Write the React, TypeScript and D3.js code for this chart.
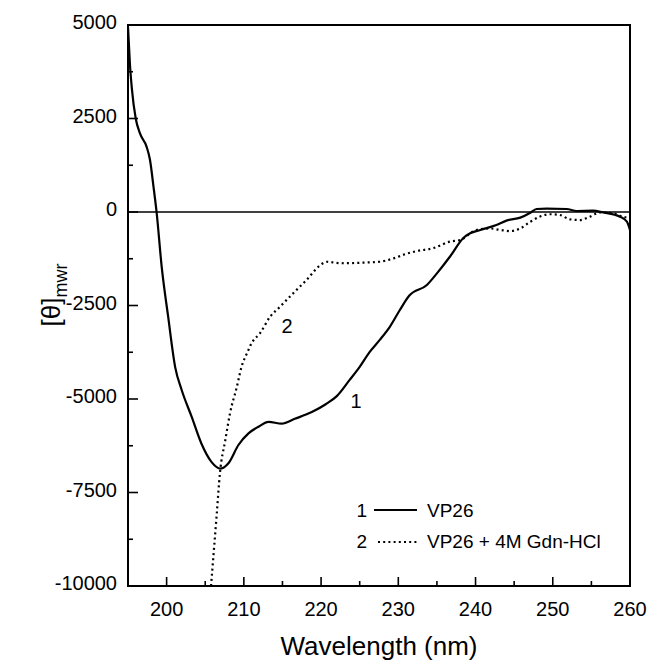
import React from "react";
import * as d3 from "d3";

const xTicks = [200, 210, 220, 230, 240, 250, 260];
const xMinor = [195, 205, 215, 225, 235, 245, 255];
const yTicks = [5000, 2500, 0, -2500, -5000, -7500, -10000];
const yMinor = [3750, 1250, -1250, -3750, -6250, -8750];

const wl1 = [195.0, 195.25, 195.5, 196.0, 196.55, 197.4, 197.85, 198.3, 198.7, 199.36, 200.2, 201.1, 201.95, 203.25, 204.5, 205.8, 207.0, 208.0, 209.3, 210.6, 211.9, 213.2, 214.9, 216.6, 218.8, 220.6, 222.0, 223.7, 225.0, 226.3, 227.6, 228.9, 230.2, 231.4, 233.7, 235.0, 236.7, 238.4, 239.3, 240.6, 242.7, 244.0, 245.8, 247.1, 247.9, 249.2, 251.8, 253.1, 255.2, 256.5, 258.7, 259.6, 260.0];
const v1 = [4950, 3950, 3300, 2500, 2100, 1750, 1390, 680, 0, -1460, -2800, -4140, -4760, -5480, -6190, -6680, -6860, -6720, -6230, -5920, -5740, -5610, -5660, -5530, -5350, -5140, -4930, -4490, -4140, -3740, -3420, -3070, -2620, -2240, -1950, -1640, -1190, -700, -570, -480, -350, -230, -150, -20, 80, 90, 80, 27, 35, -10, -125, -260, -480];

const wl2 = [205.75, 206.5, 206.9, 207.6, 208.2, 209.1, 209.7, 210.4, 211.0, 212.1, 213.4, 214.7, 216.4, 218.1, 219.9, 220.7, 222.5, 225.9, 227.6, 229.4, 231.0, 232.5, 234.5, 236.7, 238.0, 240.1, 241.9, 243.2, 244.5, 245.8, 247.1, 248.3, 249.6, 250.9, 252.2, 253.5, 254.8, 256.1, 257.8, 259.1, 260.0];
const v2 = [-10000, -8050, -6990, -6100, -5390, -4670, -4140, -3780, -3510, -3240, -2800, -2530, -2170, -1820, -1420, -1330, -1370, -1350, -1330, -1240, -1120, -1040, -970, -790, -750, -480, -440, -480, -510, -440, -260, -125, -60, -80, -195, -215, -125, -10, -35, -125, -170];

const legendLabels = ["VP26", "VP26 + 4M Gdn-HCl"];

export default function App() {
  const W = 650, H = 660;
  const L = 128, R = 630, T = 25, B = 586;
  const x = d3.scaleLinear().domain([195, 260]).range([L, R]);
  const y = d3.scaleLinear().domain([-10000, 5000]).range([B, T]);
  const line = d3.line<[number, number]>().x(d => x(d[0])).y(d => y(d[1])).curve(d3.curveMonotoneX);
  const d1 = line(wl1.map((w, i) => [w, v1[i]]) as [number, number][]) || "";
  const d2 = line(wl2.map((w, i) => [w, v2[i]]) as [number, number][]) || "";
  const font = "Liberation Sans, Arial, sans-serif";
  return (
    <svg width={W} height={H} style={{ position: "absolute", left: 0, top: 0, background: "#fff" }} fontFamily={font}>
      <defs>
        <clipPath id="plot"><rect x={L} y={T} width={R - L} height={B - T} /></clipPath>
      </defs>
      <rect x={0} y={0} width={W} height={H} fill="#fff" />
      {/* zero line */}
      <line x1={L} x2={R} y1={y(0)} y2={y(0)} stroke="#000" strokeWidth={1.6} />
      <g clipPath="url(#plot)">
        <path d={d1} fill="none" stroke="#000" strokeWidth={2.2} />
        <path d={d2} fill="none" stroke="#000" strokeWidth={2.2} strokeDasharray="2 3.2" />
      </g>
      {/* frame */}
      <rect x={L} y={T} width={R - L} height={B - T} fill="none" stroke="#000" strokeWidth={2} />
      {/* x ticks */}
      {xTicks.map(t => (
        <g key={"xt" + t}>
          <line x1={x(t)} x2={x(t)} y1={B} y2={B - 9} stroke="#000" strokeWidth={1.6} />
          <text x={x(t)} y={616} fontSize={20} textAnchor="middle">{t}</text>
        </g>
      ))}
      {xMinor.map(t => (
        <line key={"xm" + t} x1={x(t)} x2={x(t)} y1={B} y2={B - 5} stroke="#000" strokeWidth={1.6} />
      ))}
      {yTicks.map(t => (
        <g key={"yt" + t}>
          <line x1={L} x2={L + 10} y1={y(t)} y2={y(t)} stroke="#000" strokeWidth={1.6} />
          <text x={117} y={y(t) + 4} fontSize={20} textAnchor="end">{t}</text>
        </g>
      ))}
      {yMinor.map(t => (
        <line key={"ym" + t} x1={L} x2={L + 5} y1={y(t)} y2={y(t)} stroke="#000" strokeWidth={1.6} />
      ))}
      {/* curve labels */}
      <text x={356} y={408} fontSize={20} textAnchor="middle">1</text>
      <text x={287} y={333} fontSize={20} textAnchor="middle">2</text>
      {/* legend */}
      <text x={367} y={517} fontSize={19} textAnchor="end">1</text>
      <line x1={374} x2={417} y1={510} y2={510} stroke="#000" strokeWidth={2} />
      <text x={427} y={517} fontSize={19}>{legendLabels[0]}</text>
      <text x={367} y={548} fontSize={19} textAnchor="end">2</text>
      <line x1={378} x2={417} y1={542} y2={542} stroke="#000" strokeWidth={2} strokeDasharray="2 3.2" />
      <text x={427} y={548} fontSize={19}>{legendLabels[1]}</text>
      {/* axis titles */}
      <text x={(L + R) / 2} y={655} fontSize={26} textAnchor="middle">Wavelength (nm)</text>
      <text transform="translate(60,295) rotate(-90)" fontSize={26} textAnchor="middle">
        [θ]<tspan fontSize={18} dy={7}>mwr</tspan>
      </text>
    </svg>
  );
}
